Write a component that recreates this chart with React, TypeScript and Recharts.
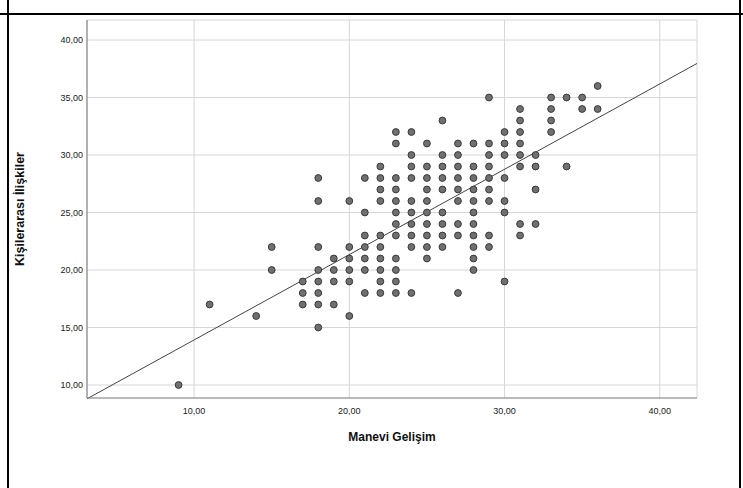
import {
  ScatterChart,
  Scatter,
  XAxis,
  YAxis,
  CartesianGrid,
  ReferenceLine,
} from "recharts";

// Manevi Gelişim scores (one entry per column of dots)
const maneviScores = [
  9, 11, 14, 15, 17, 18, 19, 20, 21, 22, 23, 24, 25, 26, 27, 28, 29, 30, 31,
  32, 33, 34, 35, 36,
];

// Kişilerarası İlişkiler scores found at each Manevi Gelişim score
const iliskiScores = [
  [10],
  [17],
  [16],
  [22, 20],
  [19, 18, 17],
  [28, 26, 22, 20, 19, 18, 17, 15],
  [21, 20, 19, 17],
  [26, 22, 21, 20, 19, 16],
  [28, 25, 23, 22, 21, 20, 18],
  [29, 28, 27, 26, 23, 22, 21, 20, 19, 18],
  [32, 31, 28, 27, 26, 25, 24, 23, 21, 20, 19, 18],
  [32, 30, 29, 28, 26, 25, 24, 23, 22, 18],
  [31, 29, 28, 27, 26, 25, 24, 23, 22, 21],
  [33, 30, 29, 28, 27, 25, 24, 23, 22],
  [31, 30, 29, 28, 27, 26, 24, 23, 18],
  [31, 29, 28, 27, 26, 25, 24, 23, 22, 21, 20],
  [35, 31, 30, 29, 28, 27, 26, 23, 22],
  [32, 31, 30, 28, 26, 25, 19],
  [34, 33, 32, 31, 30, 29, 24, 23],
  [30, 29, 27, 24],
  [35, 34, 33, 32],
  [35, 29],
  [35, 34],
  [36, 34],
];

const xTicks = [10, 20, 30, 40];
const yTicks = [10, 15, 20, 25, 30, 35, 40];

const xDomain = [3.1, 42.4];
const yDomain = [8.87, 41.74];

// fit line: y = a + b * x
const fitIntercept = 6.5;
const fitSlope = 0.742;

const points = maneviScores.flatMap((x, i) =>
  iliskiScores[i].map((y) => ({ x, y }))
);

const fmt = (v: number) => v.toFixed(2).replace(".", ",");

const font = "'Liberation Sans', Arial, sans-serif";

const Dot = (props: any) => {
  const { cx, cy } = props;
  if (cx == null || cy == null) return null;
  return (
    <circle
      cx={cx}
      cy={cy}
      r={3.4}
      fill="#707070"
      stroke="#3a3a3a"
      strokeWidth={1}
    />
  );
};

export default function App() {
  const fitLine = [
    { x: xDomain[0], y: fitIntercept + fitSlope * xDomain[0] },
    { x: xDomain[1], y: fitIntercept + fitSlope * xDomain[1] },
  ];

  return (
    <div
      style={{
        position: "absolute",
        left: 0,
        top: 0,
        width: 743,
        height: 488,
        background: "#fff",
        overflow: "hidden",
      }}
    >
      {/* output frame */}
      <div style={{ position: "absolute", left: 7, top: 0, width: 2, height: 488, background: "#000" }} />
      <div style={{ position: "absolute", left: 739, top: 0, width: 2, height: 488, background: "#000" }} />
      <div style={{ position: "absolute", left: 0, top: 13, width: 743, height: 2, background: "#000" }} />

      <ScatterChart
        width={743}
        height={488}
        margin={{ top: 20, right: 46, left: 27, bottom: 60 }}
        style={{ position: "absolute", left: 0, top: 0 }}
      >
        <CartesianGrid stroke="#d6d6d6" strokeWidth={1} />
        <XAxis
          type="number"
          dataKey="x"
          domain={xDomain}
          ticks={xTicks}
          allowDataOverflow
          height={30}
          tickFormatter={fmt}
          tickLine={false}
          tickSize={0}
          tickMargin={10}
          axisLine={{ stroke: "#8a8a8a", strokeWidth: 1.2 }}
          tick={{ fill: "#222", fontSize: 9, fontFamily: font }}
          label={{
            content: ({ viewBox }: any) => (
              <text
                x={viewBox.x + viewBox.width / 2}
                y={viewBox.y + 43}
                textAnchor="middle"
                fontFamily={font}
                fontSize={12}
                fontWeight="bold"
                fill="#111"
              >
                Manevi Gelişim
              </text>
            ),
          }}
        />
        <YAxis
          type="number"
          dataKey="y"
          domain={yDomain}
          ticks={yTicks}
          allowDataOverflow
          width={60}
          tickFormatter={fmt}
          tickLine={false}
          tickSize={0}
          tickMargin={4}
          axisLine={{ stroke: "#8a8a8a", strokeWidth: 1.2 }}
          tick={{ fill: "#222", fontSize: 9, fontFamily: font }}
          label={{
            content: ({ viewBox }: any) => {
              const cx = viewBox.x - 7;
              const cy = viewBox.y + viewBox.height / 2;
              return (
                <text
                  x={cx}
                  y={cy}
                  transform={`rotate(-90 ${cx} ${cy})`}
                  textAnchor="middle"
                  dominantBaseline="central"
                  fontFamily={font}
                  fontSize={12.5}
                  fontWeight="bold"
                  fill="#111"
                >
                  Kişilerarası İlişkiler
                </text>
              );
            },
          }}
        />
        <Scatter
          data={points}
          shape={Dot}
          isAnimationActive={false}
        />
        <ReferenceLine
          segment={fitLine}
          stroke="#444"
          strokeWidth={1}
          ifOverflow="visible"
        />
      </ScatterChart>
    </div>
  );
}
